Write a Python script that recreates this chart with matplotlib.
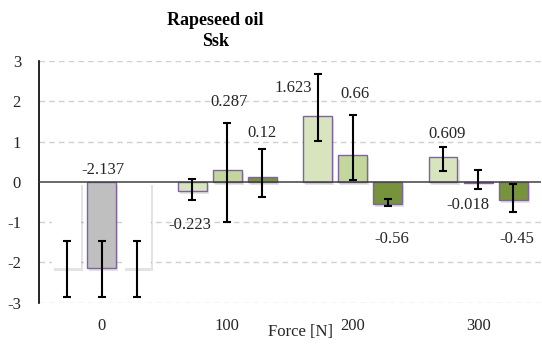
import matplotlib
matplotlib.use("Agg")
import matplotlib.pyplot as plt
import matplotlib.patheffects as pe
import numpy as np

# ---------------- data ----------------
forces = ["0", "100", "200", "300"]
series_values = [
    [-2.137, -0.223, 1.623, 0.609],   # bar 1 of each group
    [-2.137, 0.287, 0.66, -0.018],    # bar 2
    [-2.137, 0.12, -0.56, -0.45],     # bar 3
]
err_upper = [
    [0.68, 0.29, 1.05, 0.25],
    [0.68, 1.17, 1.00, 0.32],
    [0.68, 0.70, 0.14, 0.39],
]
err_lower = [
    [0.73, 0.23, 0.61, 0.34],
    [0.73, 1.29, 0.61, 0.16],
    [0.73, 0.50, 0.05, 0.29],
]
label_texts = [
    [None, "-0.223", "1.623", "0.609"],
    ["-2.137", "0.287", "0.66", "-0.018"],
    [None, "0.12", "-0.56", "-0.45"],
]
y_ticks = [-3, -2, -1, 0, 1, 2, 3]

# ---------------- style / layout ----------------
bar_colors = [
    ["#ffffff", "#d7e4bd", "#d7e4bd", "#d7e4bd"],
    ["#bfbfbf", "#c3d69b", "#c3d69b", "#f2f2f2"],
    ["#ffffff", "#77933c", "#77933c", "#77933c"],
]
edge_colors = [
    ["none", "#8064a2", "#8064a2", "#8064a2"],
    ["#8064a2", "#8064a2", "#8064a2", "#8064a2"],
    ["none", "#8064a2", "#8064a2", "#8064a2"],
]
label_dx = [
    [0, -0.02, -0.19, 0.03],
    [0.006, 0.014, 0.018, -0.08],
    [0, 0.0, 0.03, 0.03],
]
label_y = [
    [0, -1.07, 2.32, 1.19],
    [0.29, 1.99, 2.18, -0.575],
    [0, 1.22, -1.43, -1.42],
]
offsets = [-0.28, 0.0, 0.28]
width = 0.23

plt.rcParams['font.family'] = ['Liberation Serif', 'DejaVu Serif']

fig = plt.figure(figsize=(5.42, 3.47), dpi=100)
ax = fig.add_axes([0.072, 0.1277, 0.926, 0.6965])

x = np.arange(len(forces))
shadow = [pe.SimplePatchShadow(offset=(1.5, -2), shadow_rgbFace='0.5', alpha=0.22),
          pe.Normal()]

for s in range(3):
    for g in range(len(forces)):
        xi = x[g] + offsets[s]
        v = series_values[s][g]
        ec = edge_colors[s][g]
        ax.bar(xi, v, width=width, color=bar_colors[s][g],
               edgecolor=ec, linewidth=1.0 if ec != "none" else 0,
               zorder=3, path_effects=shadow)
        ax.errorbar(xi, v, yerr=[[err_lower[s][g]], [err_upper[s][g]]],
                    fmt='none', ecolor='black', elinewidth=1.5,
                    capsize=3, capthick=1.5, zorder=5)
        t = label_texts[s][g]
        if t is not None:
            ax.text(xi + label_dx[s][g], label_y[s][g], t, ha='center',
                    va='center', fontsize=12, color='#262626', zorder=6)

ax.set_xlim(-0.5, 3.5)
ax.set_ylim(-3, 3)
ax.set_yticks(y_ticks)
ax.set_yticklabels([str(v) for v in y_ticks], fontsize=12)
ax.set_xticks(x)
ax.set_xticklabels(forces, fontsize=12)
ax.tick_params(axis='both', length=0, colors='#262626')
ax.tick_params(axis='y', pad=13)
ax.tick_params(axis='x', pad=11)

for yv in y_ticks:
    if yv != 0:
        ax.axhline(yv, color='#d0d0d0', linewidth=1, linestyle=(0, (4, 3)), zorder=1)
ax.axhline(0, color='#404040', linewidth=1.1, zorder=4)

for sp in ['top', 'right', 'bottom']:
    ax.spines[sp].set_visible(False)
ax.spines['left'].set_color('black')
ax.spines['left'].set_linewidth(1.2)

ax.set_xlabel("Force [N]", fontsize=12, color='#262626')
ax.xaxis.set_label_coords(0.52, -0.121)
ax.xaxis.label.set_va('center')

fig.text(0.397, 0.911, "Rapeseed oil\nSsk", ha='center', va='center',
         fontsize=13, fontweight='bold', linespacing=1.3,
         family=['Liberation Serif', 'DejaVu Serif'])

fig.savefig("out.png", dpi=100)
